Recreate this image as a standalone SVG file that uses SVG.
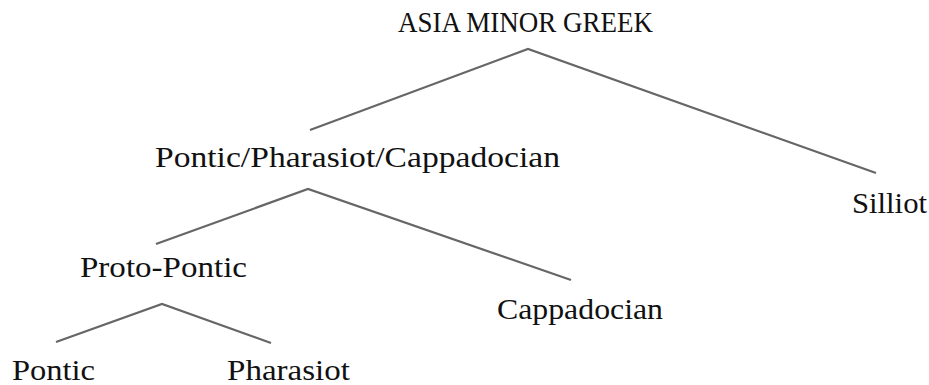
<svg xmlns="http://www.w3.org/2000/svg" width="929" height="385" viewBox="0 0 929 385">
<style>
text{font-family:"Liberation Serif","DejaVu Serif",serif;font-size:29px;fill:#111;text-anchor:middle}
.e{stroke:#666;stroke-width:2.2;fill:none}
</style>
<rect width="929" height="385" fill="#fff"/>
<g id="connectors">
<polyline class="e" points="310,130 528,49 876,173"/>
<polyline class="e" points="156,244 308,189 571,280"/>
<polyline class="e" points="56,342 162,304 271,343"/>
</g>
<g id="n-root"><text x="525.5" y="32" textLength="255" lengthAdjust="spacingAndGlyphs">ASIA MINOR GREEK</text></g>
<g id="n-ppc"><text x="357.5" y="167" textLength="405" lengthAdjust="spacingAndGlyphs">Pontic/Pharasiot/Cappadocian</text></g>
<g id="n-silliot"><text x="889.5" y="213" textLength="75" lengthAdjust="spacingAndGlyphs">Silliot</text></g>
<g id="n-proto"><text x="163.5" y="277" textLength="167" lengthAdjust="spacingAndGlyphs">Proto-Pontic</text></g>
<g id="n-capp"><text x="580" y="319" textLength="166" lengthAdjust="spacingAndGlyphs">Cappadocian</text></g>
<g id="n-pontic"><text x="53.5" y="380" textLength="83" lengthAdjust="spacingAndGlyphs">Pontic</text></g>
<g id="n-phar"><text x="288.5" y="380" textLength="123" lengthAdjust="spacingAndGlyphs">Pharasiot</text></g>
</svg>
